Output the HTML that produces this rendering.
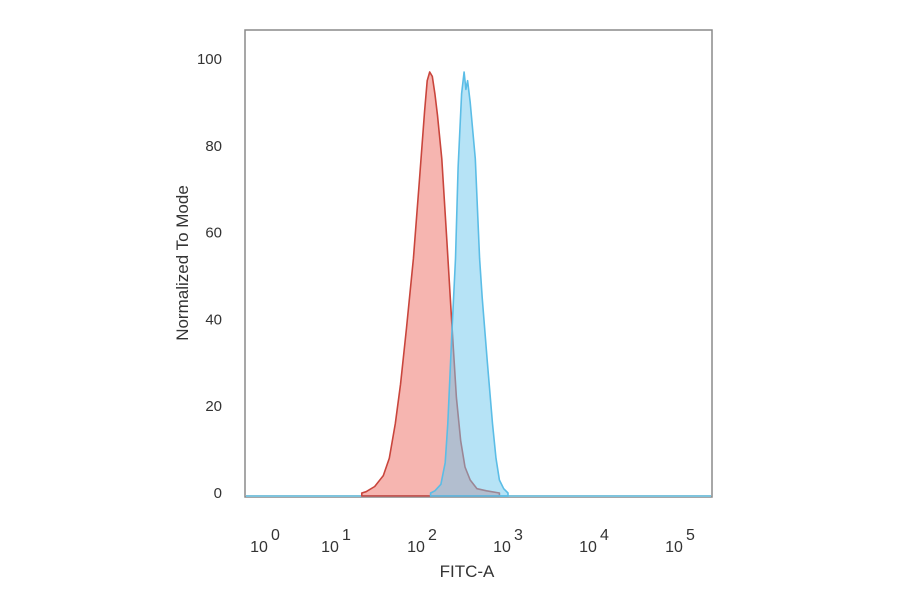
<!DOCTYPE html>
<html><head><meta charset="utf-8"><style>
body{margin:0;background:#fff;}
svg{display:block;font-family:"Liberation Sans",Arial,sans-serif;}
</style></head><body>
<svg width="900" height="594" viewBox="0 0 900 594">
<rect x="245" y="30" width="467" height="467" fill="#fff" stroke="#8a8a8a" stroke-width="1.5"/>
<g id="marks"></g>
<g id="yticks"></g>
<g id="xticks"></g>
<text x="467" y="577" font-size="17" fill="#333" text-anchor="middle">FITC-A</text>
<text transform="translate(188,263) rotate(-90)" font-size="17" fill="#333" text-anchor="middle">Normalized To Mode</text>
</svg>
<script>
const redLog = [1.3,1.35,1.45,1.55,1.62,1.69,1.75,1.82,1.9,1.97,2.03,2.06,2.09,2.12,2.15,2.18,2.23,2.29,2.35,2.4,2.45,2.5,2.56,2.64,2.75,2.9];
const redVal = [0,0.3,1.5,4,8,16,25,38,54,72,88,95,97,96,92,87,77,58,38,22,12,6,3,1,0.5,0];
const blueLog = [2.1,2.15,2.22,2.27,2.3,2.35,2.39,2.42,2.46,2.49,2.51,2.53,2.56,2.62,2.67,2.7,2.76,2.82,2.86,2.9,2.95,3.0];
const blueVal = [0,0.5,2,7,16,38,54,75,92,97,93,95,90,77,54,45,30,16,8,3,1,0];
const yTicks = [0,20,40,60,80,100];
const xDecades = [0,1,2,3,4,5];

const NS="http://www.w3.org/2000/svg";
function xScale(l){ return l>=1 ? 422+(l-2)*86 : 265+l*(336-265); }
function yScale(v){ return 493 - v*4.34; }
function mk(tag,attrs){const e=document.createElementNS(NS,tag);for(const k in attrs)e.setAttribute(k,attrs[k]);return e;}

const marks=document.getElementById('marks');
const base=yScale(0)+3;
const bl=mk('line',{x1:246,x2:711,y1:base,y2:base,stroke:'#7fc4dd','stroke-width':2});


marks.appendChild(bl);
function series(logs,vals,fill,stroke,name){
  let d='M'+xScale(logs[0])+','+base;
  for(let i=0;i<logs.length;i++) d+=' L'+xScale(logs[i]).toFixed(1)+','+Math.min(base,yScale(vals[i])).toFixed(1);
  d+=' L'+xScale(logs[logs.length-1])+','+base+' Z';
  const p=mk('path',{d:d,fill:fill,stroke:stroke,'stroke-width':1.6,'stroke-linejoin':'round'});
  
  
  marks.appendChild(p);
}
series(redLog,redVal,'rgba(238,120,112,0.55)','#c9453c','control-histogram-red');
series(blueLog,blueVal,'rgba(110,200,238,0.5)','#5bbde6','sample-histogram-blue');

const yt=document.getElementById('yticks');
yTicks.forEach(v=>{
  const t=mk('text',{x:222,y:yScale(v)+5,'font-size':15,fill:'#333','text-anchor':'end'});
  t.textContent=v;
  
  
  yt.appendChild(t);
});
const xt=document.getElementById('xticks');
xDecades.forEach(d=>{
  const t=mk('text',{x:xScale(d),y:552,'font-size':16,fill:'#333','text-anchor':'middle'});
  t.textContent='10';
  const s=mk('tspan',{dy:-12,dx:3,'font-size':16});
  s.textContent=d;
  t.appendChild(s);
  
  
  xt.appendChild(t);
});
</script>
</body></html>
